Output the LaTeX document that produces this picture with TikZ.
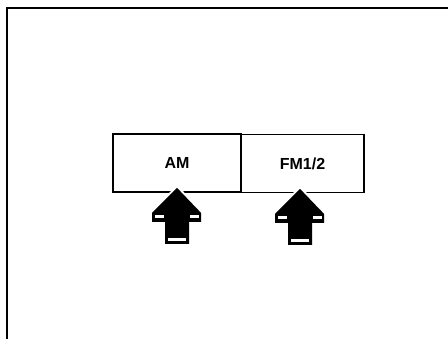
\documentclass[tikz,border=0pt]{standalone}
\usepackage{fontspec}
\setmainfont{Liberation Sans}
\begin{document}
\begin{tikzpicture}[x=1pt,y=-1pt,
  frameline/.style={line width=2pt,line cap=rect},
  btnbox/.style={draw,line width=1.7pt,minimum width=125pt,minimum height=58pt,inner sep=0pt,
    font=\fontsize{16}{16}\selectfont\bfseries,anchor=center},
  pics/pressarrow/.style={code={
    \path[fill=white,draw=white,line width=4pt,line join=round]
      (0,-6) -- (-25,19) -- (-25,28) -- (-12,28) -- (-12,50) -- (12,50) -- (12,28) -- (24,28) -- (24,19) -- cycle;
    \fill[black]
      (0,-6) -- (-25,19) -- (-25,28) -- (-12,28) -- (-12,50) -- (12,50) -- (12,28) -- (24,28) -- (24,19) -- cycle;
    \fill[white] (-22,21) rectangle (-13,24);
    \fill[white] (13,21) rectangle (22,24);
    \fill[white] (-9,44) rectangle (9,47);
  }}]
\useasboundingbox (0,0) rectangle (448,339);
\fill[white] (0,0) rectangle (448,339);
\coordinate (tl) at (7,8.5);
\coordinate (tr) at (448,8.5);
\coordinate (bl) at (7,339);
\draw[frameline] (tr) -- (tl) -- (bl);
\node[btnbox,minimum width=128pt] (am) at (177,163) {AM};
\node[btnbox,minimum width=123pt] (fm) at (302.5,163.5) {FM1/2};
\pic at ([xshift=0pt,yshift=-1pt]am.south) {pressarrow};
\pic at ([xshift=-2.5pt,yshift=-1.5pt]fm.south) {pressarrow};
\end{tikzpicture}
\end{document}
